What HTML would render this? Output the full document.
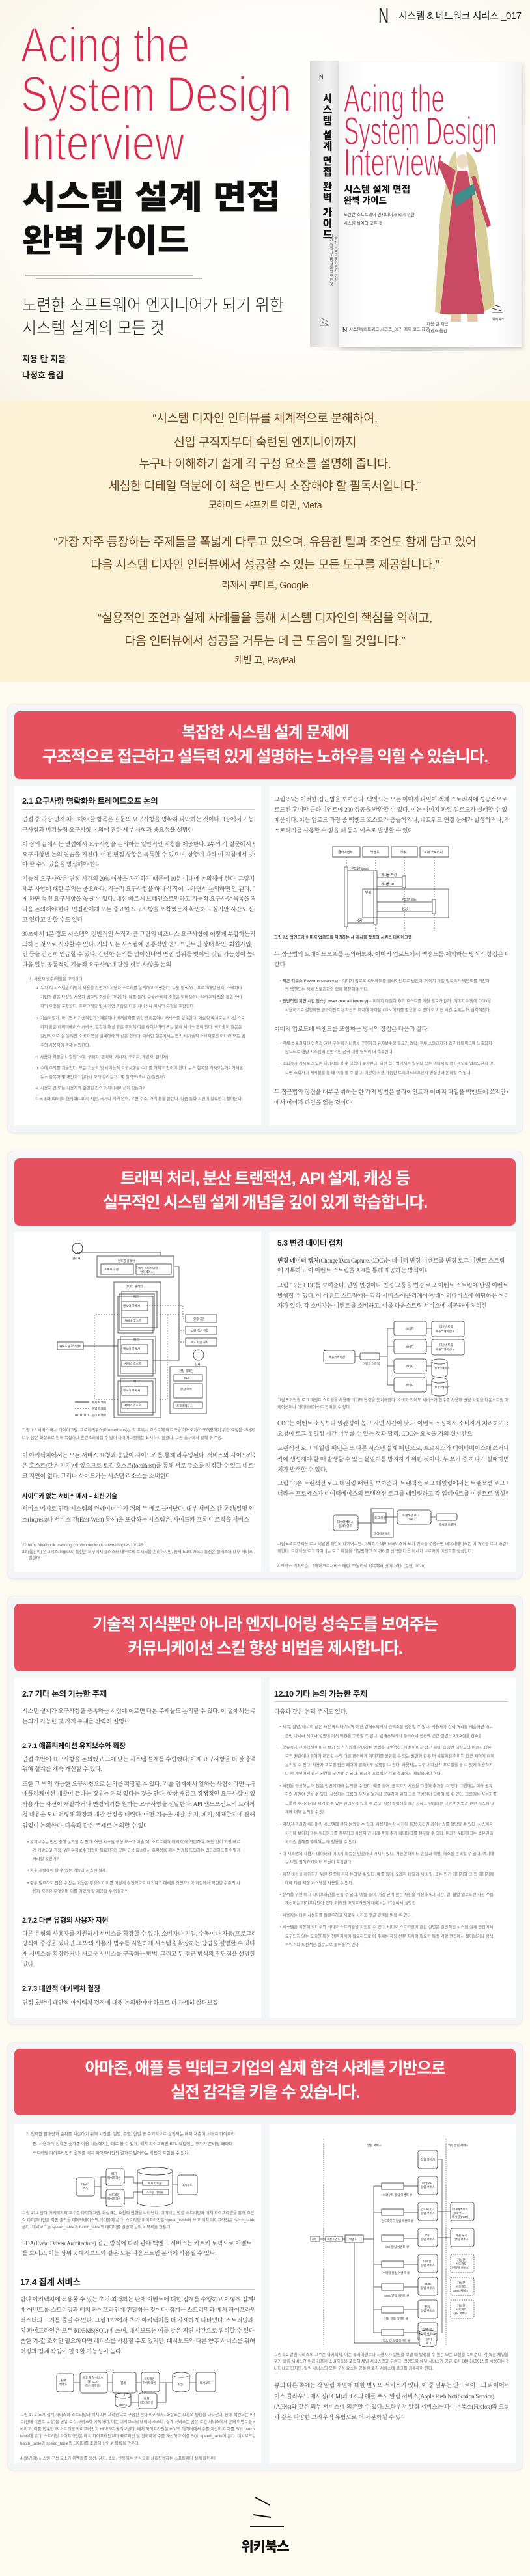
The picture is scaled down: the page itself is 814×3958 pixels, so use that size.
<!DOCTYPE html>
<html><head><meta charset="utf-8">
<style>
*{margin:0;padding:0;box-sizing:border-box}
body{width:814px;height:3958px;position:relative;background:#fdfaf1;overflow:hidden;font-family:"Liberation Sans","Noto Sans CJK KR",sans-serif}
.a{position:absolute}
.q{position:absolute;left:0;width:814px;text-align:center;font-family:"Liberation Sans","Noto Sans CJK KR",sans-serif;color:#6e4a22;font-size:18.5px;letter-spacing:-0.4px;line-height:24px;white-space:nowrap}
.qa{font-size:14.5px;line-height:20px}
.card{position:absolute;left:11px;width:792px;background:#f4f5f6;border:1px solid #eceeef;border-radius:10px;box-shadow:0 1px 3px rgba(0,0,0,.06)}
.hdr{position:absolute;left:22px;width:770px;background:#e6505f;border-radius:8px;color:#fff;text-align:center;font-family:"Liberation Sans","Noto Sans CJK KR",sans-serif;font-weight:700;font-size:25px;letter-spacing:-1.2px;line-height:37px;white-space:nowrap}
.pn{position:absolute;background:#fff}
.l{position:absolute;white-space:nowrap;overflow:hidden;font-family:"Liberation Serif","Noto Serif CJK KR",serif;font-size:9px;color:#4a4a4a;line-height:12px;letter-spacing:-0.2px}
.s{position:absolute;white-space:nowrap;overflow:hidden;font-family:"Liberation Sans","Noto Sans CJK KR",sans-serif;font-size:6.3px;color:#666;line-height:9px}
.h{position:absolute;white-space:nowrap;font-family:"Liberation Sans","Noto Sans CJK KR",sans-serif;font-weight:700;color:#222;font-size:12.5px;line-height:16px;letter-spacing:-0.3px}
.u{position:absolute;height:1px;background:#ccc}
</style></head><body>

<!-- top hero -->
<div class="a" style="left:0;top:0;width:814px;height:616px;background:radial-gradient(ellipse at 55% 45%,#ffffff 0%,#fefdf9 55%,#f8f4e8 100%)"></div>
<div class="a" style="left:581px;top:6px;font-size:32px;font-weight:300;color:#222;font-family:'Liberation Sans',sans-serif;transform:scaleX(0.7);transform-origin:left">N</div>
<div class="a" style="left:612px;top:13px;font-size:15px;color:#222;letter-spacing:-0.5px;white-space:nowrap">시스템 &amp; 네트워크 시리즈 _017</div>

<svg class="a" style="left:0;top:0" width="814" height="600">
 <g fill="#d9294f" stroke="#fdfbf5" stroke-width="2.2" font-family="Liberation Sans, sans-serif">
  <text x="32" y="95" font-size="76" textLength="259" lengthAdjust="spacingAndGlyphs">Acing the</text>
  <text x="32" y="171" font-size="76" textLength="416" lengthAdjust="spacingAndGlyphs">System Design</text>
  <text x="32" y="246" font-size="76" textLength="251" lengthAdjust="spacingAndGlyphs">Interview</text>
 </g>
 <g fill="#111" font-family="Liberation Sans, Noto Sans CJK KR, sans-serif" font-weight="900">
  <text x="34" y="320" font-size="50" textLength="397" lengthAdjust="spacingAndGlyphs">시스템 설계 면접</text>
  <text x="34" y="387" font-size="50" textLength="256" lengthAdjust="spacingAndGlyphs">완벽 가이드</text>
 </g>
 <line x1="39" y1="423" x2="296" y2="423" stroke="#777" stroke-width="1"/>
 <line x1="55" y1="428" x2="311" y2="428" stroke="#777" stroke-width="1"/>
 <g fill="#222" font-family="Liberation Sans, Noto Sans CJK KR, sans-serif" font-weight="300">
  <text x="34" y="478" font-size="26" textLength="402" lengthAdjust="spacingAndGlyphs">노련한 소프트웨어 엔지니어가 되기 위한</text>
  <text x="34" y="513" font-size="26" textLength="219" lengthAdjust="spacingAndGlyphs">시스템 설계의 모든 것</text>
 </g>
 <g fill="#222" font-family="Liberation Sans, Noto Sans CJK KR, sans-serif" font-weight="700">
  <text x="34" y="556" font-size="13">지용 탄 지음</text>
 </g>
</svg>
<div class="a" style="left:34px;top:566px;font-size:13px;font-weight:700;color:#222">나정호 옮김</div>

<!-- book -->
<div class="a" style="left:472px;top:99px;width:335px;height:440px;background:radial-gradient(ellipse at 50% 100%,rgba(0,0,0,.12),rgba(0,0,0,0) 70%)"></div>
<div class="a" style="left:476px;top:93px;width:44px;height:440px;background:linear-gradient(90deg,#dcdcdc,#f2f2f2 60%,#e4e4e4)"></div>
<div class="a" style="left:520px;top:96px;width:282px;height:437px;background:linear-gradient(90deg,#f6f6f6,#fff 15%,#fff 85%,#f2f2f2);box-shadow:2px 3px 6px rgba(0,0,0,.15)"></div>
<div class="a" style="left:488px;top:143px;font-size:16px;font-weight:900;color:#111;writing-mode:vertical-rl;letter-spacing:1px;white-space:nowrap">시스템 설계 면접 완벽 가이드</div>
<div class="a" style="left:504px;top:360px;font-size:5.5px;color:#555;writing-mode:vertical-rl;white-space:nowrap;line-height:7px">노련한 소프트웨어 엔지니어가<br>되기 위한 시스템 설계의 모든 것</div>
<div class="a" style="left:490px;top:113px;font-size:9px;color:#222">N</div>
<svg class="a" style="left:0;top:0" width="814" height="600">
 <g fill="#d9294f" stroke="#ffffff" stroke-width="1.6" font-family="Liberation Sans, sans-serif">
  <text x="528" y="172" font-size="60" textLength="155" lengthAdjust="spacingAndGlyphs">Acing the</text>
  <text x="528" y="222" font-size="60" textLength="235" lengthAdjust="spacingAndGlyphs">System Design</text>
  <text x="528" y="270" font-size="60" textLength="150" lengthAdjust="spacingAndGlyphs">Interview</text>
 </g>
 <g fill="#111" font-family="Liberation Sans, Noto Sans CJK KR, sans-serif" font-weight="900">
  <text x="528" y="296" font-size="14" textLength="102" lengthAdjust="spacingAndGlyphs">시스템 설계 면접</text>
  <text x="528" y="313" font-size="14" textLength="66" lengthAdjust="spacingAndGlyphs">완벽 가이드</text>
 </g>
 <g fill="#444" font-family="Liberation Sans, Noto Sans CJK KR, sans-serif" font-size="6.5">
  <text x="528" y="332">노련한 소프트웨어 엔지니어가 되기 위한</text>
  <text x="528" y="345">시스템 설계의 모든 것</text>
  <text x="536" y="508">시스템&amp;네트워크 시리즈_017</text>
  <text x="620" y="508">예제 코드 제공</text>
  <text x="655" y="500">지용 탄 지음</text>
  <text x="655" y="510">나정호 옮김</text>
 </g>
 <text x="526" y="510" font-size="10" fill="#222" font-family="Liberation Sans">N</text>
 <!-- figure -->
 <path d="M700 232 Q690 240 688 262 L676 330 L668 480 L700 486 L706 300 Z" fill="#dcd2a0"/>
 <path d="M716 232 Q730 240 734 265 L748 360 L760 470 L742 480 L725 300 Z" fill="#d8cd98"/>
 <ellipse cx="710" cy="248" rx="9" ry="11" fill="#efd9c0"/>
 <path d="M703 262 L695 300 L683 420 L676 482 L744 482 L735 420 L725 300 L718 262 Z" fill="#c84a63"/>
 <path d="M697 300 L728 282 L730 298 L700 318 Z" fill="#3f8c8a"/>
 <path d="M700 262 L692 300 L672 250 L676 246 Z" fill="#c84a63"/>
 <path d="M724 272 L748 350 L754 346 L730 270 Z" fill="#c84a63"/>
 <path d="M693 482 L692 494 L708 494 L708 482 Z M718 482 L718 494 L734 494 L733 482 Z" fill="#e7c9a8"/>
 <g stroke="#333" stroke-width="1"><line x1="758" y1="468" x2="770" y2="472"/><line x1="756" y1="474" x2="770" y2="478"/><line x1="756" y1="480" x2="772" y2="480"/></g>
 <text x="756" y="492" font-size="5" fill="#333" font-family="Noto Sans CJK KR, sans-serif">위키북스</text>
 <g stroke="#555" stroke-width=".8"><line x1="492" y1="488" x2="504" y2="494"/><line x1="492" y1="494" x2="504" y2="499"/><line x1="492" y1="500" x2="505" y2="500"/></g>
</svg>

<!-- quotes -->
<div class="a" style="left:0;top:616px;width:814px;height:432px;background:#fbf1d5"></div>
<div class="q" style="top:631px">“시스템 디자인 인터뷰를 체계적으로 분해하여,</div>
<div class="q" style="top:668px">신입 구직자부터 숙련된 엔지니어까지</div>
<div class="q" style="top:701px">누구나 이해하기 쉽게 각 구성 요소를 설명해 줍니다.</div>
<div class="q" style="top:735px">세심한 디테일 덕분에 이 책은 반드시 소장해야 할 필독서입니다.”</div>
<div class="q qa" style="top:767px">모하마드 샤프카트 아민, Meta</div>
<div class="q" style="top:821px">“가장 자주 등장하는 주제들을 폭넓게 다루고 있으며, 유용한 팁과 조언도 함께 담고 있어</div>
<div class="q" style="top:856px">다음 시스템 디자인 인터뷰에서 성공할 수 있는 모든 도구를 제공합니다.”</div>
<div class="q qa" style="top:890px">라제시 쿠마르, Google</div>
<div class="q" style="top:938px">“실용적인 조언과 실제 사례들을 통해 시스템 디자인의 핵심을 익히고,</div>
<div class="q" style="top:973px">다음 인터뷰에서 성공을 거두는 데 큰 도움이 될 것입니다.”</div>
<div class="q qa" style="top:1005px">케빈 고, PayPal</div>

<!-- SECTION 1 -->
<div class="card" style="top:1081px;height:660px"></div>
<div class="hdr" style="top:1093px;height:104px;padding-top:15px">복잡한 시스템 설계 문제에<br>구조적으로 접근하고 설득력 있게 설명하는 노하우를 익힐 수 있습니다.</div>
<div class="pn" style="left:22px;top:1208px;width:379px;height:521px"></div>
<div class="pn" style="left:414px;top:1208px;width:378px;height:521px"></div>

<div class="h" style="left:34px;top:1223px">2.1  요구사항 명확화와 트레이드오프 논의</div>
<div class="u" style="left:34px;top:1243px;width:358px"></div>
<div class="l" style="left:34px;top:1253px;width:358px">면접 중 가장 먼저 체크해야 할 항목은 질문의 요구사항을 명확히 파악하는 것이다. 3장에서 기능적 요구사항과</div>
<div class="l" style="left:34px;top:1269px;width:258px">구사항과 비기능적 요구사항 논의에 관한 세부 사항과 중요성을 설명한다.</div>
<div class="l" style="left:34px;top:1291px;width:358px">이 장의 끝에서는 면접에서 요구사항을 논의하는 일반적인 지침을 제공한다. 2부의 각 질문에서 면접 요구사항</div>
<div class="l" style="left:34px;top:1307px;width:358px">요구사항별 논의 연습을 거친다. 어떤 면접 상황은 독특할 수 있으며, 상황에 따라 이 지침에서 벗어나야 할 수도</div>
<div class="l" style="left:34px;top:1322px;width:118px">야 할 수도 있음을 명심해야 한다.</div>
<div class="l" style="left:34px;top:1344px;width:358px">기능적 요구사항은 면접 시간의 20% 이상을 차지하기 때문에 10분 이내에 논의해야 한다. 그렇지만 세부 사항</div>
<div class="l" style="left:34px;top:1360px;width:358px">세부 사항에 대한 주의는 중요하다. 기능적 요구사항을 하나씩 적어 나가면서 논의하면 안 된다. 그렇게 하면</div>
<div class="l" style="left:34px;top:1375px;width:358px">게 하면 특정 요구사항을 놓칠 수 있다. 대신 빠르게 브레인스토밍하고 기능적 요구사항 목록을 작성한 다음</div>
<div class="l" style="left:34px;top:1391px;width:358px">다음 논의해야 한다. 면접관에게 모든 중요한 요구사항을 포착했는지 확인하고 싶지만 시간도 신경 쓰고 있다고</div>
<div class="l" style="left:34px;top:1407px;width:92px">고 있다고 말할 수도 있다.</div>
<div class="l" style="left:34px;top:1429px;width:358px">30초에서 1분 정도 시스템의 전반적인 목적과 큰 그림의 비즈니스 요구사항에 어떻게 부합하는지 논의하는 것으로</div>
<div class="l" style="left:34px;top:1445px;width:358px">의하는 것으로 시작할 수 있다. 거의 모든 시스템에 공통적인 엔드포인트인 상태 확인, 회원가입, 로그인 등을</div>
<div class="l" style="left:34px;top:1460px;width:358px">인 등을 간단히 언급할 수 있다. 간단한 논의를 넘어선다면 면접 범위를 벗어난 것일 가능성이 높다. 그 다음</div>
<div class="l" style="left:34px;top:1476px;width:230px">다음 일부 공통적인 기능적 요구사항에 관한 세부 사항을 논의한다.</div>
<div class="s" style="left:45px;top:1500px;width:200px">1. 사용자 범주/역할을 고려한다.</div>
<div class="s" style="left:55px;top:1514px;width:337px">a. 누가 이 시스템을 어떻게 사용할 것인가? 사용자 스토리를 논의하고 작성한다. 수동 방식이나 프로그래밍 방식, 소비자나</div>
<div class="s" style="left:62px;top:1528px;width:330px">기업과 같은 다양한 사용자 범주의 조합을 고려한다. 예를 들어, 수동/소비자 조합은 모바일이나 브라우저 앱을 통한 소비</div>
<div class="s" style="left:62px;top:1542px;width:270px">자의 요청을 포함한다. 프로그래밍 방식/기업 조합은 다른 서비스나 회사의 요청을 포함한다.</div>
<div class="s" style="left:55px;top:1560px;width:337px">b. 기술적인가, 아니면 비기술적인가? 개발자나 비개발자를 위한 플랫폼이나 서비스를 설계한다. 기술적 예시로는 키-값 스토</div>
<div class="s" style="left:62px;top:1574px;width:330px">리지 같은 데이터베이스 서비스, 일관된 해싱 같은 목적에 따른 라이브러리 또는 분석 서비스 등이 있다. 비기술적 질문은</div>
<div class="s" style="left:62px;top:1588px;width:330px">일반적으로 '잘 알려진 소비자 앱을 설계하라'와 같은 형태다. 이러한 질문에서는 앱의 비기술적 소비자뿐만 아니라 모든 범</div>
<div class="s" style="left:62px;top:1602px;width:120px">주의 사용자에 관해 논의한다.</div>
<div class="s" style="left:55px;top:1620px;width:337px">c. 사용자 역할을 나열한다(예: 구매자, 판매자, 게시자, 조회자, 개발자, 관리자).</div>
<div class="s" style="left:55px;top:1637px;width:337px">d. 수에 주의를 기울인다. 모든 기능적 및 비기능적 요구사항은 수치를 가지고 있어야 한다. 뉴스 항목을 가져오는가? 가져온</div>
<div class="s" style="left:62px;top:1651px;width:250px">뉴스 항목이 몇 개인가? 얼마나 오래 걸리는가? 몇 밀리초/초/시간/일인가?</div>
<div class="s" style="left:55px;top:1668px;width:337px">e. 사용자 간 또는 사용자와 운영팀 간의 커뮤니케이션이 있는가?</div>
<div class="s" style="left:55px;top:1684px;width:337px">f. 국제화(i18n)와 현지화(L10n) 지원, 국가나 지역 언어, 우편 주소, 가격 등을 묻는다. 다중 통화 지원이 필요한지 물어본다.</div>

<div class="l" style="left:421px;top:1222px;width:359px">그림 7.5는 이러한 접근법을 보여준다. 백엔드는 모든 이미지 파일이 객체 스토리지에 성공적으로 업로드된</div>
<div class="l" style="left:421px;top:1238px;width:359px">로드된 후에만 클라이언트에 200 성공을 반환할 수 있다. 이는 이미지 파일 업로드가 실패할 수 있기 때문이다.</div>
<div class="l" style="left:421px;top:1254px;width:359px">때문이다. 이는 업로드 과정 중 백엔드 호스트가 충돌하거나, 네트워크 연결 문제가 발생하거나, 객체 스토리지를</div>
<div class="l" style="left:421px;top:1270px;width:210px">스토리지를 사용할 수 없을 때 등의 이유로 발생할 수 있다.</div>
<svg class="a" style="left:505px;top:1300px" width="190" height="132" font-family="Liberation Sans, Noto Sans CJK KR, sans-serif" font-size="5">
 <g fill="#fff" stroke="#333" stroke-width=".8">
  <rect x="6" y="1" width="42" height="16"/><rect x="52" y="1" width="40" height="16"/><rect x="96" y="1" width="40" height="16"/><rect x="140" y="1" width="44" height="16"/>
 </g>
 <g fill="#222"><text x="14" y="11">클라이언트</text><text x="64" y="11">백엔드</text><text x="110" y="11">SQL</text><text x="146" y="11">객체 스토리지</text></g>
 <g stroke="#333" stroke-dasharray="2 2" stroke-width=".7"><line x1="27" y1="17" x2="27" y2="130"/><line x1="72" y1="17" x2="72" y2="130"/><line x1="116" y1="17" x2="116" y2="130"/><line x1="162" y1="17" x2="162" y2="130"/></g>
 <g fill="#fff" stroke="#333" stroke-width=".7"><rect x="24" y="32" width="5" height="92"/><rect x="69" y="38" width="5" height="82"/><rect x="113" y="46" width="5" height="18"/><rect x="159" y="82" width="5" height="22"/></g>
 <g stroke="#333" stroke-width=".7"><line x1="29" y1="38" x2="69" y2="38"/><line x1="74" y1="48" x2="113" y2="48"/><line x1="74" y1="62" x2="113" y2="62"/><line x1="74" y1="86" x2="159" y2="86"/><line x1="74" y1="100" x2="159" y2="100"/><line x1="29" y1="118" x2="69" y2="118"/></g>
 <rect x="52" y="66" width="132" height="44" fill="none" stroke="#333" stroke-width=".7"/>
 <g fill="#222"><text x="35" y="36">POST /post</text><text x="80" y="46">게시물 작성</text><text x="80" y="60">게시물 ID</text><text x="56" y="73">반복</text><text x="112" y="84">POST /file</text><text x="112" y="98">성공</text><text x="42" y="116">성공</text></g>
</svg>
<div class="s" style="left:421px;top:1436px;width:300px;font-weight:700;color:#444">그림 7.5 백엔드가 이미지 업로드를 처리하는 새 게시물 작성의 시퀀스 다이어그램</div>
<div class="l" style="left:421px;top:1460px;width:359px">두 접근법의 트레이드오프를 논의해보자. 이미지 업로드에서 백엔드를 제외하는 방식의 장점은 다음과 같다.</div>
<div class="l" style="left:421px;top:1476px;width:20px">같다.</div>
<div class="s" style="left:430px;top:1503px;width:350px"><b>•  적은 리소스(Fewer resources)</b> – 이미지 업로드 오버헤드를 클라이언트로 넘긴다. 이미지 파일 업로드가 백엔드를 거친다</div>
<div class="s" style="left:438px;top:1516px;width:200px">면 백엔드는 객체 스토리지와 함께 확장해야 한다.</div>
<div class="s" style="left:430px;top:1534px;width:350px"><b>•  전반적인 지연 시간 감소(Lower overall latency)</b> – 이미지 파일이 추가 호스트를 거칠 필요가 없다. 이미지 저장에 CDN을</div>
<div class="s" style="left:438px;top:1548px;width:342px">사용하기로 결정하면 클라이언트가 자신의 위치에 가까운 CDN 에지를 활용할 수 없어 이 지연 시간 문제는 더 심각해진다.</div>
<div class="l" style="left:421px;top:1575px;width:359px">이미지 업로드에 백엔드를 포함하는 방식의 장점은 다음과 같다.</div>
<div class="s" style="left:430px;top:1599px;width:350px">•  객체 스토리지에 인증과 권한 부여 메커니즘을 구현하고 유지보수할 필요가 없다. 객체 스토리지가 외부 네트워크에 노출되지</div>
<div class="s" style="left:438px;top:1612px;width:200px">않으므로 해당 시스템의 전반적인 공격 대상 영역이 더 축소된다.</div>
<div class="s" style="left:430px;top:1630px;width:350px">•  조회자가 게시물의 모든 이미지를 볼 수 있음이 보장된다. 이전 접근법에서는 일부나 모든 이미지를 성공적으로 업로드하지 않</div>
<div class="s" style="left:438px;top:1644px;width:300px">으면 조회자가 게시물을 볼 때 이를 볼 수 없다. 이것이 허용 가능한 트레이드오프인지 면접관과 논의할 수 있다.</div>
<div class="l" style="left:421px;top:1672px;width:359px">두 접근법의 장점을 대부분 취하는 한 가지 방법은 클라이언트가 이미지 파일을 백엔드에 쓰지만 CDN</div>
<div class="l" style="left:421px;top:1688px;width:120px">에서 이미지 파일을 읽는 것이다.</div>

<!-- SECTION 2 -->
<div class="card" style="top:1768px;height:658px"></div>
<div class="hdr" style="top:1780px;height:103px;padding-top:13px">트래픽 처리, 분산 트랜잭션, API 설계, 캐싱 등<br>실무적인 시스템 설계 개념을 깊이 있게 학습합니다.</div>
<div class="pn" style="left:22px;top:1893px;width:379px;height:522px"></div>
<div class="pn" style="left:414px;top:1893px;width:378px;height:522px"></div>

<svg class="a" style="left:85px;top:1910px" width="255" height="278" font-family="Liberation Sans, Noto Sans CJK KR, sans-serif" font-size="4.5" fill="#222">
 <circle cx="34" cy="8" r="8" fill="none" stroke="#333"/><text x="26" y="25">관리자</text>
 <g fill="none" stroke="#333" stroke-width=".8">
  <rect x="64" y="20" width="118" height="32"/><rect x="70" y="32" width="50" height="16"/><rect x="124" y="32" width="54" height="16"/>
  <rect x="90" y="60" width="72" height="208"/>
  <rect x="98" y="78" width="54" height="56"/><rect x="102" y="74" width="54" height="56"/><rect x="96" y="82" width="54" height="56"/>
  <rect x="96" y="148" width="54" height="56"/><rect x="100" y="144" width="54" height="56"/>
  <rect x="96" y="212" width="54" height="52"/><rect x="100" y="208" width="54" height="52"/>
  <rect x="102" y="90" width="40" height="14"/><rect x="102" y="114" width="40" height="10"/>
  <rect x="102" y="156" width="40" height="14"/><rect x="102" y="180" width="40" height="10"/>
  <rect x="102" y="220" width="40" height="14"/><rect x="102" y="244" width="40" height="10"/>
  <rect x="200" y="110" width="48" height="12"/><rect x="200" y="128" width="48" height="12"/><rect x="200" y="146" width="48" height="12"/>
  <rect x="176" y="190" width="56" height="72"/><rect x="182" y="202" width="44" height="10"/><rect x="182" y="216" width="44" height="22"/><rect x="182" y="244" width="44" height="10"/>
  <rect x="3" y="152" width="40" height="12"/>
  <circle cx="220" cy="172" r="8"/>
  <polyline points="34,16 34,14 162,14 162,20"/>
  <polyline points="182,36 190,36 190,180 150,180"/>
  <line x1="43" y1="158" x2="96" y2="158"/>
 </g>
 <g fill="none" stroke="#333" stroke-width=".7" stroke-dasharray="2 2">
  <polyline points="140,96 196,96 196,116 200,116"/><polyline points="160,110 190,110 190,134 200,134"/><polyline points="190,134 190,152 200,152"/>
  <polyline points="96,110 60,110 60,240 96,240"/><polyline points="160,240 172,240 172,110"/>
 </g>
 <text x="96" y="29">컨트롤 플레인</text><text x="75" y="42">프록시 구성</text><text x="127" y="40">외부 서비스와의</text><text x="130" y="46">인터페이스</text>
 <text x="108" y="68">데이터 플레인</text><text x="120" y="84">파드</text><text x="104" y="98">엔보이 프록시</text><text x="106" y="121">서비스 호스트</text>
 <text x="120" y="150">파드</text><text x="104" y="164">엔보이 프록시</text><text x="106" y="187">서비스 호스트</text>
 <text x="120" y="214">파드</text><text x="104" y="228">엔보이 프록시</text><text x="106" y="251">서비스 호스트</text>
 <text x="212" y="118">인증 기관</text><text x="208" y="136">ID와 접근 관리</text><text x="208" y="154">속도 제한 규칙</text>
 <text x="6" y="160">서비스 클라이언트</text><text x="214" y="188">감사자</text>
 <text x="190" y="198">관찰 플레인</text><text x="198" y="209">ELK</text><text x="192" y="226">분산 추적</text><text x="186" y="252">프로메테우스</text>
 <line x1="30" y1="244" x2="52" y2="244" stroke="#333"/><text x="56" y="246">메시 트래픽</text>
 <line x1="30" y1="254" x2="52" y2="254" stroke="#333" stroke-dasharray="2 2"/><text x="56" y="256">운영 트래픽</text>
 <line x1="30" y1="264" x2="52" y2="264" stroke="#333" stroke-dasharray="1 1"/><text x="56" y="266">관리 트래픽</text>
</svg>
<div class="s" style="left:34px;top:2193px;width:358px">그림 1.8 서비스 메시 다이어그램. 프로메테우스(Prometheus)는 각 프록시 호스트에 메트릭을 가져오기/스크래핑하기 위한 요청을 보내지만,</div>
<div class="s" style="left:34px;top:2205px;width:358px">너무 많은 화살표로 인해 복잡하고 혼란스러워질 수 있어 다이어그램에는 표시하지 않았다. 그림 출처에서 발췌 후 수정.</div>
<div class="l" style="left:34px;top:2230px;width:358px">이 아키텍처에서는 모든 서비스 요청과 응답이 사이드카를 통해 라우팅된다. 서비스와 사이드카는 같은</div>
<div class="l" style="left:34px;top:2246px;width:358px">은 호스트(같은 기기)에 있으므로 로컬 호스트(localhost)를 통해 서로 주소를 지정할 수 있고 네트워크</div>
<div class="l" style="left:34px;top:2262px;width:225px">크 지연이 없다. 그러나 사이드카는 시스템 리소스를 소비한다.</div>
<div class="h" style="left:34px;top:2292px;font-size:9.5px">사이드카 없는 서비스 메시 – 최신 기술</div>
<div class="l" style="left:34px;top:2312px;width:358px">서비스 메시로 인해 시스템의 컨테이너 수가 거의 두 배로 늘어났다. 내부 서비스 간 통신(일명 인그레</div>
<div class="l" style="left:34px;top:2329px;width:358px">스(Ingress)나 서비스 간(East-West) 통신)을 포함하는 시스템은, 사이드카 프록시 로직을 서비스</div>
<div class="s" style="left:34px;top:2370px;width:358px">22  https://livebook.manning.com/book/cloud-native/chapter-10/146</div>
<div class="s" style="left:34px;top:2380px;width:358px">23  (옮긴이) 인그레스(Ingress) 통신은 외부에서 클러스터 내부로의 트래픽을 관리하지만, 동서(East-West) 통신은 클러스터 내부 서비스 간의 트래픽을</div>
<div class="s" style="left:44px;top:2390px;width:30px">말한다.</div>

<div class="h" style="left:426px;top:1902px;font-size:12px">5.3  변경 데이터 캡처</div>
<div class="u" style="left:426px;top:1920px;width:354px"></div>
<div class="l" style="left:426px;top:1931px;width:354px"><b>변경 데이터 캡처</b>(Change Data Capture, CDC)는 데이터 변경 이벤트를 변경 로그 이벤트 스트림</div>
<div class="l" style="left:426px;top:1946px;width:230px">에 기록하고 이 이벤트 스트림을 API를 통해 제공하는 방식이다.</div>
<div class="l" style="left:426px;top:1969px;width:354px">그림 5.2는 CDC를 보여준다. 단일 변경이나 변경 그룹을 변경 로그 이벤트 스트림에 단일 이벤트로</div>
<div class="l" style="left:426px;top:1985px;width:354px">발행할 수 있다. 이 이벤트 스트림에는 각각 서비스/애플리케이션/데이터베이스에 해당하는 여러 소비</div>
<div class="l" style="left:426px;top:2000px;width:320px">자가 있다. 각 소비자는 이벤트를 소비하고, 이를 다운스트림 서비스에 제공하여 처리한다.</div>
<svg class="a" style="left:495px;top:2028px" width="222" height="118" font-family="Liberation Sans, Noto Sans CJK KR, sans-serif" font-size="4.5" fill="#222">
 <g fill="#fff" stroke="#333" stroke-width=".8">
  <rect x="2" y="47" width="48" height="20" rx="3"/>
  <rect x="110" y="2" width="50" height="22" rx="3"/><rect x="110" y="30" width="50" height="22" rx="3"/><rect x="110" y="60" width="50" height="22" rx="3"/><rect x="110" y="89" width="50" height="22" rx="3"/>
  <rect x="168" y="2" width="50" height="24" rx="3"/><rect x="168" y="30" width="50" height="24" rx="3"/>
  <path d="M168 64 v20 a12 4 0 0 0 24 0 v-20 a12 4 0 0 0 -24 0 a12 4 0 0 0 24 0"/>
  <path d="M168 93 v20 a12 4 0 0 0 24 0 v-20 a12 4 0 0 0 -24 0 a12 4 0 0 0 24 0"/>
  <rect x="58" y="51" width="30" height="10" rx="2"/>
 </g>
 <g stroke="#333" stroke-width=".7" fill="none"><line x1="50" y1="56" x2="58" y2="56"/><line x1="88" y1="56" x2="100" y2="56"/><polyline points="110,13 100,13 100,100 110,100"/><line x1="100" y1="41" x2="110" y2="41"/><line x1="100" y1="71" x2="110" y2="71"/><line x1="160" y1="13" x2="168" y2="13"/><line x1="160" y1="41" x2="168" y2="41"/><line x1="160" y1="71" x2="168" y2="71"/><line x1="160" y1="100" x2="168" y2="100"/></g>
 <text x="10" y="59">애플리케이션</text><text x="62" y="69">이벤트 스트림</text>
 <text x="128" y="15">소비자</text><text x="128" y="43">소비자</text><text x="128" y="73">소비자</text><text x="128" y="102">소비자</text>
 <text x="180" y="12">다운스트림</text><text x="174" y="19">애플리케이션 1</text><text x="180" y="40">다운스트림</text><text x="174" y="47">애플리케이션 2</text>
 <text x="171" y="76">데이터베이스</text><text x="171" y="105">데이터베이스</text>
</svg>
<div class="s" style="left:426px;top:2147px;width:354px">그림 5.2 변경 로그 이벤트 스트림을 사용해 데이터 변경을 동기화한다. 소비자 외에도 서비스가 함수를 사용해 변경 사항을 다운스트림 애플리</div>
<div class="s" style="left:426px;top:2158px;width:160px">케이션이나 데이터베이스로 전파할 수 있다.</div>
<div class="l" style="left:426px;top:2181px;width:354px">CDC는 이벤트 소싱보다 일관성이 높고 지연 시간이 낮다. 이벤트 소싱에서 소비자가 처리하기 전에</div>
<div class="l" style="left:426px;top:2197px;width:300px">요청이 로그에 일정 시간 머무를 수 있는 것과 달리, CDC는 요청을 거의 실시간으로 처리한다.</div>
<div class="l" style="left:426px;top:2219px;width:354px">트랜잭션 로그 테일링 패턴은 또 다른 시스템 설계 패턴으로, 프로세스가 데이터베이스에 쓰거나 카프</div>
<div class="l" style="left:426px;top:2236px;width:354px">카에 생성해야 할 때 발생할 수 있는 불일치를 방지하기 위한 것이다. 두 쓰기 중 하나가 실패하면 불일</div>
<div class="l" style="left:426px;top:2252px;width:80px">치가 발생할 수 있다.</div>
<div class="l" style="left:426px;top:2273px;width:354px">그림 5.3은 트랜잭션 로그 테일링 패턴을 보여준다. 트랜잭션 로그 테일링에서는 트랜잭션 로그 마이</div>
<div class="l" style="left:426px;top:2289px;width:354px">너라는 프로세스가 데이터베이스의 트랜잭션 로그를 테일링하고 각 업데이트를 이벤트로 생성한다.</div>
<svg class="a" style="left:510px;top:2316px" width="195" height="50" font-family="Liberation Sans, Noto Sans CJK KR, sans-serif" font-size="4.5" fill="#222">
 <g fill="#fff" stroke="#333" stroke-width=".8"><rect x="2" y="12" width="38" height="24" rx="3"/><rect x="60" y="2" width="34" height="44"/><rect x="63" y="8" width="20" height="16"/><rect x="100" y="4" width="52" height="22" rx="3"/><rect x="160" y="10" width="32" height="10" rx="2"/></g>
 <g stroke="#333" stroke-width=".7"><line x1="40" y1="24" x2="60" y2="24"/><line x1="83" y1="15" x2="100" y2="15"/><line x1="152" y1="15" x2="160" y2="15"/></g>
 <text x="8" y="24">데이터베이스</text><text x="10" y="30">클라이언트</text><text x="65" y="18">로그 파일</text><text x="64" y="42">데이터베이스</text><text x="108" y="14">트랜잭션 로그</text><text x="116" y="20">마이너</text><text x="164" y="28">메시지 브로커</text>
</svg>
<div class="s" style="left:426px;top:2368px;width:354px">그림 5.3 트랜잭션 로그 테일링 패턴의 다이어그램. 서비스가 데이터베이스에 쓰기 쿼리를 수행하면 데이터베이스는 이 쿼리를 로그 파일에 기</div>
<div class="s" style="left:426px;top:2379px;width:354px">록한다. 트랜잭션 로그 마이너는 로그 파일을 테일링하고 이 쿼리를 선택한 다음 메시지 브로커에 이벤트를 생성한다.</div>
<div class="s" style="left:426px;top:2402px;width:354px">8  크리스 리처드슨, 《마이크로서비스 패턴: 모놀리식 지옥에서 벗어나라》(길벗, 2020)</div>

<!-- SECTION 3 -->
<div class="card" style="top:2452px;height:659px"></div>
<div class="hdr" style="top:2464px;height:104px;padding-top:14px">기술적 지식뿐만 아니라 엔지니어링 성숙도를 보여주는<br>커뮤니케이션 스킬 향상 비법을 제시합니다.</div>
<div class="pn" style="left:22px;top:2578px;width:379px;height:522px"></div>
<div class="pn" style="left:414px;top:2578px;width:378px;height:522px"></div>

<div class="h" style="left:34px;top:2595px">2.7  기타 논의 가능한 주제</div>
<div class="u" style="left:34px;top:2613px;width:358px"></div>
<div class="l" style="left:34px;top:2623px;width:358px">시스템 설계가 요구사항을 충족하는 시점에 이르면 다른 주제들도 논의할 수 있다. 이 절에서는 추가로</div>
<div class="l" style="left:34px;top:2639px;width:160px">논의가 가능한 몇 가지 주제를 간략히 설명한다.</div>
<div class="h" style="left:34px;top:2675px;font-size:11px">2.7.1  애플리케이션 유지보수와 확장</div>
<div class="l" style="left:34px;top:2697px;width:358px">면접 초반에 요구사항을 논의했고 그에 맞는 시스템 설계를 수립했다. 이제 요구사항을 더 잘 충족하기</div>
<div class="l" style="left:34px;top:2712px;width:130px">위해 설계를 계속 개선할 수 있다.</div>
<div class="l" style="left:34px;top:2735px;width:358px">또한 그 밖의 가능한 요구사항으로 논의를 확장할 수 있다. 기술 업계에서 일하는 사람이라면 누구나</div>
<div class="l" style="left:34px;top:2750px;width:358px">애플리케이션 개발이 끝나는 경우는 거의 없다는 것을 안다. 항상 새롭고 경쟁적인 요구사항이 있다.</div>
<div class="l" style="left:34px;top:2766px;width:358px">사용자는 자신이 개발하거나 변경되기를 원하는 요구사항을 전달한다. API 엔드포인트의 트래픽과 요</div>
<div class="l" style="left:34px;top:2782px;width:358px">청 내용을 모니터링해 확장과 개발 결정을 내린다. 어떤 기능을 개발, 유지, 폐기, 해체할지에 관해 끊</div>
<div class="l" style="left:34px;top:2799px;width:190px">임없이 논의한다. 다음과 같은 주제로 논의할 수 있다.</div>
<div class="s" style="left:42px;top:2826px;width:350px">•  유지보수는 면접 중에 논의될 수 있다. 어떤 시스템 구성 요소가 기술(예: 소프트웨어 패키지)에 의존하며, 어떤 것이 가장 빠르</div>
<div class="s" style="left:50px;top:2839px;width:342px">게 개발되고 가장 많은 유지보수 작업이 필요한가? 모든 구성 요소에서 호환성을 깨는 변경을 도입하는 업그레이드를 어떻게</div>
<div class="s" style="left:50px;top:2852px;width:60px">처리할 것인가?</div>
<div class="s" style="left:42px;top:2870px;width:200px">•  향후 개발해야 할 수 있는 기능과 시스템 설계.</div>
<div class="s" style="left:42px;top:2889px;width:350px">•  향후 필요하지 않을 수 있는 기능은 무엇이고 이를 어떻게 점진적으로 폐기하고 해체할 것인가? 이 과정에서 적절한 수준의 사</div>
<div class="s" style="left:50px;top:2902px;width:180px">용자 지원은 무엇이며 이를 어떻게 잘 제공할 수 있을까?</div>
<div class="h" style="left:34px;top:2943px;font-size:11px">2.7.2  다른 유형의 사용자 지원</div>
<div class="l" style="left:34px;top:2965px;width:358px">다른 유형의 사용자를 지원하게 서비스를 확장할 수 있다. 소비자나 기업, 수동이나 자동(프로그래밍)</div>
<div class="l" style="left:34px;top:2980px;width:358px">방식에 중점을 뒀다면 그 밖의 사용자 범주를 지원하게 시스템을 확장하는 방법을 설명할 수 있다. 현</div>
<div class="l" style="left:34px;top:2996px;width:358px">재 서비스를 확장하거나 새로운 서비스를 구축하는 방법, 그리고 두 접근 방식의 장단점을 설명할 수</div>
<div class="l" style="left:34px;top:3012px;width:20px">있다.</div>
<div class="h" style="left:34px;top:3048px;font-size:11px">2.7.3  대안적 아키텍처 결정</div>
<div class="l" style="left:34px;top:3071px;width:300px">면접 초반에 대안적 아키텍처 결정에 대해 논의했어야 하므로 더 자세히 살펴보겠다.</div>

<div class="h" style="left:421px;top:2595px">12.10  기타 논의 가능한 주제</div>
<div class="u" style="left:421px;top:2614px;width:359px"></div>
<div class="l" style="left:421px;top:2624px;width:200px">다음과 같은 논의 주제도 있다.</div>
<div class="s" style="left:430px;top:2649px;width:350px">•  제목, 설명, 태그와 같은 사진 메타데이터에 대한 일래스틱서치 인덱스를 생성할 수 있다. 사용자가 검색 쿼리를 제출하면 태그</div>
<div class="s" style="left:438px;top:2663px;width:300px">뿐만 아니라 제목과 설명에 퍼지 매칭을 수행할 수 있다. 일래스틱서치 클러스터 생성에 관한 설명은 2.6.3절을 참조한다.</div>
<div class="s" style="left:430px;top:2681px;width:350px">•  공유자가 뷰어에게 이미지 보기 접근 권한을 부여하는 방법을 설명했다. 개별 이미지 접근 제어, 다양한 해상도의 이미지 다운</div>
<div class="s" style="left:438px;top:2694px;width:342px">로드 권한이나 뷰어가 제한된 수의 다른 뷰어에게 이미지를 공유할 수 있는 권한과 같은 더 세분화된 이미지 접근 제어에 대해</div>
<div class="s" style="left:438px;top:2708px;width:342px">논의할 수 있다. 사용자 프로필 접근 제어에 관해서도 설명할 수 있다. 사용자는 누구나 자신의 프로필을 볼 수 있게 허용하거</div>
<div class="s" style="left:438px;top:2721px;width:240px">나 각 개인에게 접근 권한을 부여할 수 있다. 비공개 프로필은 검색 결과에서 제외되어야 한다.</div>
<div class="s" style="left:430px;top:2740px;width:350px">•  사진을 구성하는 더 많은 방법에 대해 논의할 수 있다. 예를 들어, 공유자가 사진을 그룹에 추가할 수 있다. 그룹에는 여러 공유</div>
<div class="s" style="left:438px;top:2753px;width:342px">자의 사진이 있을 수 있다. 사용자는 그룹의 사진을 보거나 공유하기 위해 그룹 구성원이 되어야 할 수 있다. 그룹에는 사용자를</div>
<div class="s" style="left:438px;top:2767px;width:342px">그룹에 추가하거나 제거할 수 있는 관리자가 있을 수 있다. 사진 컬렉션을 패키징하고 판매하는 다양한 방법과 관련 시스템 설</div>
<div class="s" style="left:438px;top:2780px;width:60px">계에 대해 논의할 수 있다.</div>
<div class="s" style="left:430px;top:2799px;width:350px">•  저작권 관리와 워터마킹 시스템에 관해 논의할 수 있다. 사용자는 각 사진에 특정 저작권 라이선스를 할당할 수 있다. 시스템은</div>
<div class="s" style="left:438px;top:2813px;width:342px">사진에 보이지 않는 워터마크를 첨부하고 사용자 간 거래 중에 추가 워터마크를 첨부할 수 있다. 이러한 워터마크는 소유권과</div>
<div class="s" style="left:438px;top:2826px;width:120px">저작권 침해를 추적하는 데 활용할 수 있다.</div>
<div class="s" style="left:430px;top:2844px;width:350px">•  이 시스템의 사용자 데이터와 이미지 파일은 민감하고 가치가 있다. 가능한 데이터 손실과 예방, 해소를 논의할 수 있다. 여기에</div>
<div class="s" style="left:438px;top:2857px;width:110px">는 보안 침해와 데이터 도난이 포함된다.</div>
<div class="s" style="left:430px;top:2876px;width:350px">•  저장 비용을 제어하기 위한 전략에 관해 논의할 수 있다. 예를 들어, 오래된 파일과 새 파일, 또는 인기 이미지와 그 외 이미지에</div>
<div class="s" style="left:438px;top:2889px;width:150px">대해 다른 저장 시스템을 사용할 수 있다.</div>
<div class="s" style="left:430px;top:2907px;width:350px">•  분석을 위한 배치 파이프라인을 만들 수 있다. 예를 들어, 가장 인기 있는 사진을 계산하거나 시간, 일, 월별 업로드된 사진 수를</div>
<div class="s" style="left:438px;top:2920px;width:200px">계산하는 파이프라인이 있다. 이러한 파이프라인에 대해서는 17장에서 설명한다.</div>
<div class="s" style="left:430px;top:2939px;width:350px">•  사용자는 다른 사용자를 팔로우하고 새로운 사진과 댓글 알림을 받을 수 있다.</div>
<div class="s" style="left:430px;top:2957px;width:350px">•  시스템을 확장해 오디오와 비디오 스트리밍을 지원할 수 있다. 비디오 스트리밍에 관한 설명은 일반적인 시스템 설계 면접에서</div>
<div class="s" style="left:438px;top:2971px;width:342px">요구되지 않는 도메인 특정 전문 지식이 필요하므로 이 주제는 해당 전문 지식이 필요한 특정 역할 면접에서 물어보거나 탐색</div>
<div class="s" style="left:438px;top:2984px;width:150px">적이거나 도전적인 질문으로 물어볼 수 있다.</div>

<!-- SECTION 4 -->
<div class="card" style="top:3138px;height:658px"></div>
<div class="hdr" style="top:3148px;height:102px;padding-top:12px">아마존, 애플 등 빅테크 기업의 실제 합격 사례를 기반으로<br>실전 감각을 키울 수 있습니다.</div>
<div class="pn" style="left:22px;top:3264px;width:379px;height:521px"></div>
<div class="pn" style="left:414px;top:3264px;width:378px;height:521px"></div>

<div class="s" style="left:40px;top:3275px;width:352px;font-size:6.5px">2.  정확한 판매량과 순위를 계산하기 위해 시간별, 일별, 주별, 연별 등 주기적으로 실행되는 배치 계층이나 배치 파이프라</div>
<div class="s" style="left:50px;top:3290px;width:342px;font-size:6.5px">인. 사용자가 정확한 숫자를 이용 가능해지는 대로 볼 수 있게, 배치 파이프라인 ETL 작업에는 후자가 준비될 때마다</div>
<div class="s" style="left:50px;top:3304px;width:260px;font-size:6.5px">스트리밍 파이프라인의 결과를 배치 파이프라인의 결과로 덮어쓰는 작업이 포함될 수 있다.</div>
<svg class="a" style="left:115px;top:3328px" width="190" height="66" font-family="Liberation Sans, Noto Sans CJK KR, sans-serif" font-size="4.5" fill="#222">
 <g fill="#fff" stroke="#333" stroke-width=".8"><rect x="2" y="18" width="28" height="28" rx="3"/><rect x="48" y="4" width="28" height="26" rx="3"/><rect x="48" y="36" width="28" height="26" rx="3"/>
 <path d="M96 8 v48 a27 6 0 0 0 54 0 v-48 a27 6 0 0 0 -54 0 a27 6 0 0 0 54 0"/><rect x="104" y="22" width="40" height="8"/><rect x="104" y="36" width="40" height="8"/><rect x="158" y="14" width="30" height="30" rx="3"/></g>
 <g stroke="#333" stroke-width=".7" fill="none"><polyline points="30,32 40,32 40,17 48,17"/><polyline points="40,32 40,49 48,49"/><polyline points="76,17 90,17 90,26 104,26"/><polyline points="76,49 90,49 90,40 104,40"/><line x1="150" y1="29" x2="158" y2="29"/></g>
 <text x="10" y="30">데이터</text><text x="12" y="36">소스</text><text x="56" y="14">배치</text><text x="50" y="20">파이프라인</text><text x="52" y="46">스트리밍</text><text x="50" y="52">파이프라인</text><text x="112" y="28">배치 테이블</text><text x="110" y="42">스트림 테이블</text><text x="164" y="31">대시보드</text>
</svg>
<div class="s" style="left:34px;top:3396px;width:358px">그림 17.1 람다 아키텍처의 고수준 다이어그램. 화살표는 요청의 방향을 나타낸다. 데이터는 병렬 스트리밍과 배치 파이프라인을 통해 흐른다.</div>
<div class="s" style="left:34px;top:3407px;width:358px">각 파이프라인은 최종 출력을 데이터베이스의 테이블에 쓴다. 스트리밍 파이프라인은 speed_table에 쓰고 배치 파이프라인은 batch_table에</div>
<div class="s" style="left:34px;top:3418px;width:250px">쓴다. 대시보드는 speed_table과 batch_table의 데이터를 결합해 상위 K 목록을 만든다.</div>
<div class="l" style="left:34px;top:3441px;width:358px">EDA(Event Driven Architecture) 접근 방식에 따라 판매 백엔드 서비스는 카프카 토픽으로 이벤트</div>
<div class="l" style="left:34px;top:3456px;width:300px">를 보내고, 이는 상위 K 대시보드와 같은 모든 다운스트림 분석에 사용될 수 있다.</div>
<div class="h" style="left:31px;top:3499px;font-size:13.5px">17.4  집계 서비스</div>
<div class="u" style="left:31px;top:3517px;width:361px"></div>
<div class="l" style="left:31px;top:3527px;width:361px">람다 아키텍처에 적용할 수 있는 초기 최적화는 판매 이벤트에 대한 집계를 수행하고 이렇게 집계된 판</div>
<div class="l" style="left:31px;top:3543px;width:361px">매 이벤트를 스트리밍과 배치 파이프라인에 전달하는 것이다. 집계는 스트리밍과 배치 파이프라인 클</div>
<div class="l" style="left:31px;top:3559px;width:361px">러스터의 크기를 줄일 수 있다. 그림 17.2에서 초기 아키텍처를 더 자세하게 나타냈다. 스트리밍과 배</div>
<div class="l" style="left:31px;top:3575px;width:361px">치 파이프라인은 모두 RDBMS(SQL)에 쓰며, 대시보드는 이를 낮은 지연 시간으로 쿼리할 수 있다. 단</div>
<div class="l" style="left:31px;top:3591px;width:361px">순한 키-값 조회만 필요하다면 레디스를 사용할 수도 있지만, 대시보드와 다른 향후 서비스를 위해 필</div>
<div class="l" style="left:31px;top:3607px;width:160px">터링과 집계 작업이 필요할 가능성이 높다.</div>
<svg class="a" style="left:85px;top:3633px" width="250" height="70" font-family="Liberation Sans, Noto Sans CJK KR, sans-serif" font-size="4.5" fill="#222">
 <g fill="#fff" stroke="#333" stroke-width=".8"><rect x="2" y="14" width="26" height="28" rx="3"/><rect x="38" y="12" width="42" height="32" rx="3"/><rect x="88" y="12" width="36" height="32" rx="3"/><rect x="132" y="12" width="28" height="30" rx="3"/>
 <path d="M180 16 v22 a13 4 0 0 0 26 0 v-22 a13 4 0 0 0 -26 0 a13 4 0 0 0 26 0"/><rect x="216" y="12" width="30" height="30" rx="3"/>
 <path d="M92 48 v14 a12 4 0 0 0 24 0 v-14 a12 4 0 0 0 -24 0 a12 4 0 0 0 24 0"/><rect x="128" y="44" width="28" height="24" rx="3"/></g>
 <g stroke="#333" stroke-width=".7" fill="none"><line x1="28" y1="28" x2="38" y2="28"/><line x1="80" y1="28" x2="88" y2="28"/><line x1="124" y1="28" x2="132" y2="28"/><line x1="160" y1="28" x2="180" y2="28"/><line x1="206" y1="28" x2="216" y2="28"/><polyline points="106,44 106,48"/><line x1="116" y1="58" x2="128" y2="58"/><polyline points="156,58 170,58 170,28"/></g>
 <text x="8" y="26">판매</text><text x="6" y="32">백엔드</text><text x="42" y="22">공유 로깅 서비스</text><text x="48" y="28">(예: ELK</text><text x="46" y="34">또는 카프카)</text><text x="100" y="30">집계</text><text x="136" y="24">스트리밍</text><text x="134" y="30">파이프라인</text><text x="188" y="32">SQL</text><text x="222" y="30">대시보드</text><text x="98" y="64">HDFS</text><text x="136" y="54">배치</text><text x="130" y="60">파이프라인</text>
</svg>
<div class="s" style="left:31px;top:3706px;width:361px">그림 17.2 초기 집계 서비스와 스트리밍과 배치 파이프라인으로 구성된 람다 아키텍처. 화살표는 요청의 방향을 나타낸다. 판매 백엔드는 이벤</div>
<div class="s" style="left:31px;top:3717px;width:361px">트(판매 이벤트 포함)를 공유 로깅 서비스에 기록하며, 이는 대시보드의 데이터 소스다. 집계 서비스는 공유 로깅 서비스에서 판매 이벤트를 소</div>
<div class="s" style="left:31px;top:3728px;width:361px">비하고, 이를 집계한 후 스트리밍 파이프라인과 HDFS로 흘려보낸다. 배치 파이프라인은 HDFS 데이터에서 수를 계산하고 이를 SQL batch_</div>
<div class="s" style="left:31px;top:3739px;width:361px">table에 쓴다. 스트리밍 파이프라인은 배치 파이프라인보다 빠르지만 덜 정확하게 수를 계산하고 이를 SQL speed_table에 쓴다. 대시보드는</div>
<div class="s" style="left:31px;top:3750px;width:200px">batch_table과 speed_table의 데이터를 조합해 상위 K 목록을 만든다.</div>
<div class="s" style="left:31px;top:3773px;width:300px">4  (옮긴이) 시스템 구성 요소가 이벤트를 생성, 감지, 소비, 반응하는 방식으로 상호작용하는 소프트웨어 설계 패턴이다.</div>

<svg class="a" style="left:474px;top:3284px" width="260" height="322" font-family="Liberation Sans, Noto Sans CJK KR, sans-serif" font-size="4.5" fill="#222">
 <g stroke="#333" stroke-width=".7" stroke-dasharray="1.5 1.5"><line x1="23" y1="2" x2="23" y2="320"/><line x1="211" y1="2" x2="211" y2="320"/></g>
 <text x="90" y="14">알림 서비스</text><text x="214" y="14">외부 알림 서비스</text>
 <g fill="#fff" stroke="#333" stroke-width=".8">
  <rect x="3" y="152" width="14" height="8"/><rect x="26" y="152" width="26" height="8"/><rect x="56" y="150" width="28" height="12"/>
  <rect x="168" y="20" width="30" height="28" rx="3"/>
  <rect x="168" y="60" width="30" height="28" rx="3"/><rect x="168" y="100" width="30" height="28" rx="3"/><rect x="168" y="140" width="30" height="28" rx="3"/><rect x="168" y="180" width="30" height="28" rx="3"/><rect x="168" y="215" width="30" height="28" rx="3"/><rect x="168" y="250" width="30" height="28" rx="3"/><rect x="168" y="285" width="30" height="28" rx="3"/>
  <rect x="218" y="100" width="36" height="28" rx="3"/><rect x="218" y="140" width="36" height="28" rx="3"/>
  <rect x="218" y="180" width="36" height="28" rx="3" stroke-dasharray="2 1.5"/><rect x="218" y="215" width="36" height="28" rx="3" stroke-dasharray="2 1.5"/><rect x="218" y="250" width="36" height="28" rx="3" stroke-dasharray="2 1.5"/>
  <rect x="112" y="70" width="34" height="10"/><rect x="112" y="110" width="34" height="10"/><rect x="112" y="150" width="34" height="10"/><rect x="112" y="190" width="34" height="10"/><rect x="112" y="225" width="34" height="10"/><rect x="112" y="260" width="34" height="10"/><rect x="112" y="295" width="34" height="10"/>
  <path d="M170 300 v18 a13 4 0 0 0 26 0 v-18 a13 4 0 0 0 -26 0 a13 4 0 0 0 26 0"/>
 </g>
 <g stroke="#333" stroke-width=".7" fill="none">
  <line x1="17" y1="156" x2="26" y2="156"/><line x1="52" y1="156" x2="56" y2="156"/>
  <polyline points="84,156 100,156 100,75 112,75"/><polyline points="100,156 100,300 112,300"/>
  <line x1="100" y1="115" x2="112" y2="115"/><line x1="100" y1="195" x2="112" y2="195"/><line x1="100" y1="230" x2="112" y2="230"/><line x1="100" y1="265" x2="112" y2="265"/>
  <polyline points="70,162 70,316 170,316"/>
  <line x1="146" y1="75" x2="168" y2="75"/><line x1="146" y1="115" x2="168" y2="115"/><line x1="146" y1="155" x2="168" y2="155"/><line x1="146" y1="195" x2="168" y2="195"/><line x1="146" y1="230" x2="168" y2="230"/><line x1="146" y1="265" x2="168" y2="265"/><line x1="146" y1="300" x2="168" y2="300"/>
  <polyline points="205,300 205,34 198,34"/><line x1="198" y1="114" x2="218" y2="114"/><line x1="198" y1="154" x2="218" y2="154"/>
 </g>
 <text x="4" y="158">고객</text><text x="28" y="158">프론트엔드</text><text x="62" y="158">백엔드</text>
 <text x="172" y="36">작업 생성기</text>
 <text x="174" y="72">브라우저</text><text x="172" y="78">알림 서비스</text><text x="172" y="112">안드로이드</text><text x="172" y="118">알림 서비스</text><text x="178" y="152">iOS</text><text x="172" y="158">알림 서비스</text><text x="176" y="192">이메일</text><text x="172" y="198">알림 서비스</text><text x="178" y="227">SMS</text><text x="172" y="233">알림 서비스</text><text x="178" y="262">전화</text><text x="172" y="268">알림 서비스</text><text x="176" y="297">맞춤 앱</text><text x="172" y="303">알림 서비스</text>
 <text x="114" y="90">브라우저 알림 이벤트 큐</text><text x="112" y="130">안드로이드 알림 이벤트 큐</text><text x="118" y="170">iOS 알림 이벤트 큐</text><text x="114" y="210">이메일 알림 이벤트 큐</text><text x="116" y="245">SMS 알림 이벤트 큐</text><text x="116" y="280">전화 알림 이벤트 큐</text><text x="114" y="314">맞춤 앱 알림 이벤트 큐</text>
 <text x="220" y="112">파이어베이스</text><text x="222" y="118">클라우드</text><text x="220" y="124">메시징(FCM)</text><text x="226" y="152">애플 푸시</text><text x="224" y="158">알림 서비스</text>
 <text x="228" y="190">가능한</text><text x="226" y="196">서드파티</text><text x="220" y="202">이메일 서비스</text><text x="228" y="225">가능한</text><text x="226" y="231">서드파티</text><text x="222" y="237">SMS 서비스</text><text x="228" y="260">가능한</text><text x="226" y="266">서드파티</text><text x="222" y="272">전화 서비스</text>
 <text x="178" y="312">(공유)</text><text x="180" y="318">로그</text>
</svg>
<div class="s" style="left:421px;top:3614px;width:359px">그림 9.2 알림 서비스의 고수준 아키텍처. 이는 클라이언트나 사용자가 알림을 보낼 때 발생할 수 있는 모든 요청을 보여준다. 각 특정 채널을</div>
<div class="s" style="left:421px;top:3624px;width:359px">위한 알림 서비스인 여러 카프카 소비자들을 포함해 채널 서비스라고 부른다. 백엔드와 채널 서비스가 공유 로깅 데이터베이스를 사용하는 것을</div>
<div class="s" style="left:421px;top:3635px;width:250px">나타내고 있지만, 알림 서비스의 모든 구성 요소는 공통된 로깅 서비스에 로그를 기록해야 한다.</div>
<div class="l" style="left:421px;top:3659px;width:359px">큐의 다른 쪽에는 각 알림 채널에 대한 별도의 서비스가 있다. 이 중 일부는 안드로이드의 파이어베</div>
<div class="l" style="left:421px;top:3676px;width:359px">이스 클라우드 메시징(FCM)과 iOS의 애플 푸시 알림 서비스(Apple Push Notification Service)</div>
<div class="l" style="left:421px;top:3692px;width:359px">(APNs)와 같은 외부 서비스에 의존할 수 있다. 브라우저 알림 서비스는 파이어폭스(Firefox)와 크롬</div>
<div class="l" style="left:421px;top:3708px;width:200px">과 같은 다양한 브라우저 유형으로 더 세분화될 수 있다.</div>

<!-- footer -->
<svg class="a" style="left:370px;top:3830px" width="80" height="100">
 <g stroke="#111" stroke-width="2"><line x1="22" y1="7" x2="44" y2="19"/><line x1="19" y1="34" x2="46" y2="38"/><line x1="14" y1="52" x2="66" y2="52"/></g>
</svg>
<div class="a" style="left:0;top:3897px;width:814px;text-align:center;font-size:21px;font-weight:900;color:#111;letter-spacing:-1px">위키북스</div>
</body></html>
